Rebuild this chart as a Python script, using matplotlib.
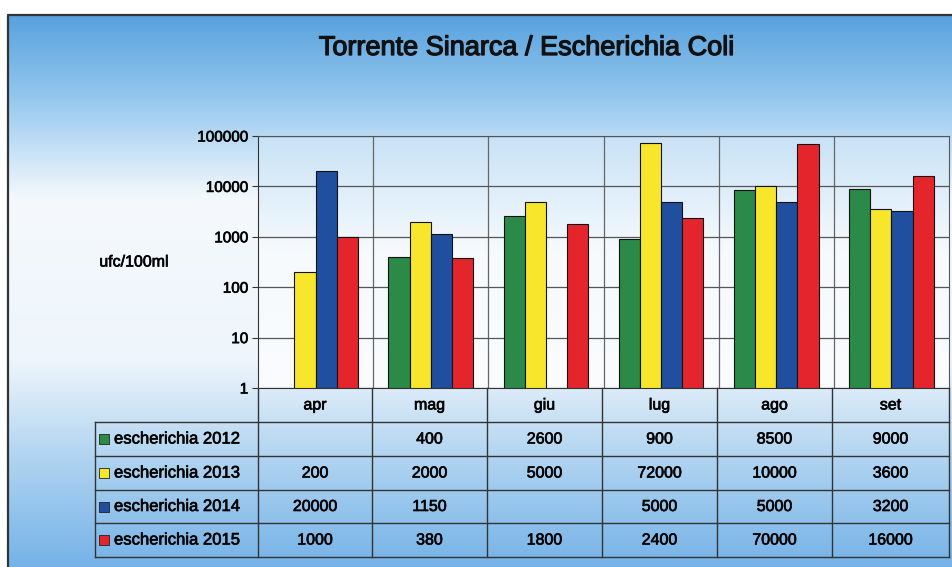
import matplotlib.pyplot as plt
import matplotlib.patheffects as pe
import numpy as np

plt.rcParams['font.family'] = ['Liberation Sans', 'DejaVu Sans']

mesi = ['apr', 'mag', 'giu', 'lug', 'ago', 'set']
serie = ['escherichia 2012', 'escherichia 2013', 'escherichia 2014', 'escherichia 2015']
e2012 = [None, 400, 2600, 900, 8500, 9000]
e2013 = [200, 2000, 5000, 72000, 10000, 3600]
e2014 = [20000, 1150, None, 5000, 5000, 3200]
e2015 = [1000, 380, 1800, 2400, 70000, 16000]
colori = ['#2b8a47', '#f7e62c', '#1f4f9e', '#e4262c']
valori = [e2012, e2013, e2014, e2015]

W, H = 952, 567
fig = plt.figure(figsize=(W / 100, H / 100), dpi=100)

# testo un po' piu' marcato
spesso = [pe.withStroke(linewidth=0.5, foreground='#111111')]


def px(x0, y0, x1, y1):
    return [x0 / W, 1 - y1 / H, (x1 - x0) / W, (y1 - y0) / H]


def sfumatura(stops, n=300):
    t = np.linspace(0, 1, n)
    pos = [s[0] for s in stops]
    rgb = np.array([s[1] for s in stops]) / 255
    col = np.stack([np.interp(t, pos, rgb[:, c]) for c in range(3)], axis=1)
    return np.repeat(col[:, None, :], 2, axis=1)


# sfondo con sfumatura
bg = fig.add_axes([0, 0, 1, 1])
bg.set_axis_off()
img = sfumatura([(0.0, (88, 162, 222)), (0.15, (150, 200, 238)),
                 (0.33, (245, 249, 253)), (0.62, (238, 245, 251)),
                 (0.80, (175, 211, 240)), (1.0, (115, 177, 231))])
bg.imshow(img, extent=(8, W + 5, H + 5, 15), aspect='auto', interpolation='bilinear')
bg.plot([W + 5, 8, 8, W + 5], [H + 5, H + 5, 15, 15], color='#333333', lw=1.6)
# riquadro del grafico piu' chiaro in basso
img2 = sfumatura([(0.0, (200, 226, 246)), (0.45, (246, 250, 253)), (1.0, (250, 252, 254))])
bg.imshow(img2, extent=(258, 949, 388, 136), aspect='auto', interpolation='bilinear')
bg.set_xlim(0, W)
bg.set_ylim(H, 0)

bg.text(527, 48, 'Torrente Sinarca / Escherichia Coli', fontsize=19.5,
        ha='center', va='center', color='#111111',
        path_effects=[pe.withStroke(linewidth=0.9, foreground='#111111')])
bg.text(134, 262, 'ufc/100ml', fontsize=11.5, ha='center', va='center',
        path_effects=spesso)

# grafico a barre
ax = fig.add_axes(px(258, 136, 949, 388))
ax.set_facecolor('none')
ax.set_yscale('log')
ax.set_xlim(0, len(mesi))
ax.set_ylim(1, 100000)
w = 0.184
x = np.arange(len(mesi))
for i, (v, c) in enumerate(zip(valori, colori)):
    for j, val in enumerate(v):
        if val is None:
            continue
        ax.bar(x[j] + 0.5 + (i - 1.5) * w, val - 1, bottom=1, width=w,
               color=c, edgecolor='#111111', linewidth=0.8, zorder=3)
ax.yaxis.grid(True, which='major', color='#555555', lw=0.9, zorder=1)
for b in range(1, len(mesi)):
    ax.axvline(b, color='#666666', lw=0.9, zorder=1)
ax.set_yticks([1, 10, 100, 1000, 10000, 100000])
ax.set_yticklabels(['1', '10', '100', '1000', '10000', '100000'])
ax.minorticks_off()
ax.tick_params(axis='y', labelsize=11, length=4, color='#333333', pad=3)
for lab in ax.get_yticklabels():
    lab.set_path_effects(spesso)
ax.set_xticks([])
for s in ['top', 'right']:
    ax.spines[s].set_color('#555555')
for s in ['left', 'bottom']:
    ax.spines[s].set_color('#333333')

# tabella dati
righe = [388, 422, 456, 490, 523, 557]
colx = [258, 372, 487, 602, 717, 832, 949]
lc = '#333333'
for r in righe[1:]:
    bg.plot([95, 949], [r, r], color=lc, lw=1)
bg.plot([95, 95], [422, 557], color=lc, lw=1)
for cx in colx:
    bg.plot([cx, cx], [388, 557], color=lc, lw=1)
for j, m in enumerate(mesi):
    xc = (colx[j] + colx[j + 1]) / 2
    bg.text(xc, 405, m, fontsize=11.5, ha='center', va='center', path_effects=spesso)
for i, (nome, v, c) in enumerate(zip(serie, valori, colori)):
    yc = (righe[i + 1] + righe[i + 2]) / 2
    bg.scatter([104], [yc], marker='s', s=45, color=c, edgecolor='#222222', lw=0.6)
    bg.text(114, yc, nome, fontsize=12, ha='left', va='center', path_effects=spesso)
    for j, val in enumerate(v):
        if val is None:
            continue
        xc = (colx[j] + colx[j + 1]) / 2
        bg.text(xc, yc, str(val), fontsize=11.5, ha='center', va='center',
                path_effects=spesso)

fig.savefig('out.png', dpi=100)
